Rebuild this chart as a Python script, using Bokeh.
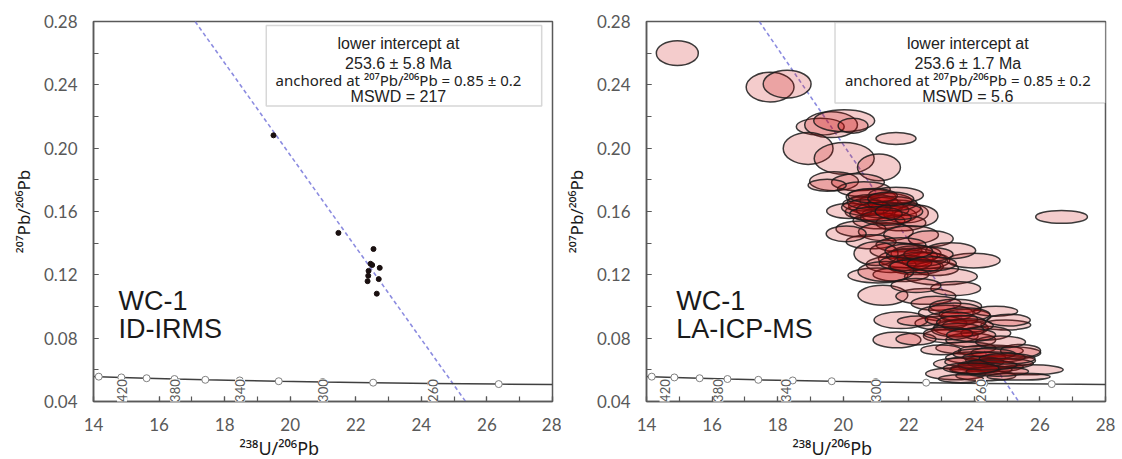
from math import pi
from bokeh.plotting import figure
from bokeh.layouts import row, Spacer
from bokeh.models import (ColumnDataSource, Label, BoxAnnotation, Title,
                          SingleIntervalTicker, NumeralTickFormatter)
from bokeh.embed import file_html
from bokeh.resources import INLINE

# ---------------- data ----------------
# Tera-Wasserburg concordia markers (Ma)
conc_age = [440, 420, 400, 380, 360, 340, 320, 300, 280, 260, 240]
conc_x = [14.16, 14.85, 15.62, 16.47, 17.41, 18.46, 19.65, 20.99, 22.53, 24.30, 26.36]
conc_y = [0.0557, 0.0552, 0.0547, 0.0542, 0.0537, 0.0533, 0.0528, 0.0523, 0.0519, 0.0514, 0.0510]
conc_line_x = [14.0, 14.16, 14.85, 15.62, 16.47, 17.41, 18.46, 19.65, 20.99, 22.53, 24.30, 26.36, 28.0]
conc_line_y = [0.0558, 0.0557, 0.0552, 0.0547, 0.0542, 0.0537, 0.0533, 0.0528, 0.0523, 0.0519, 0.0514, 0.0510, 0.0507]

age_labels = ["420", "380", "340", "300", "260"]
age_lab_x_left = [14.87, 16.49, 18.47, 21.00, 24.35]
age_lab_x_right = [14.55, 16.19, 18.26, 21.00, 24.20]

# discordia (regression) lines
disc_left_x = [17.10, 25.35]
disc_left_y = [0.28, 0.04]
disc_right_x = [17.44, 25.35]
disc_right_y = [0.28, 0.04]

# ID-IRMS analyses
idirms_x = [19.49, 21.47, 22.54, 22.45, 22.50, 22.73, 22.39, 22.38, 22.70, 22.36, 22.64]
idirms_y = [0.2081, 0.1465, 0.1363, 0.1270, 0.1262, 0.1244, 0.1225, 0.1194, 0.1173, 0.1160, 0.1081]

# LA-ICP-MS analyses (error ellipses: centre, full width, full height)
la_x = [14.94, 17.77, 18.29, 19.30, 19.63, 20.03, 20.30, 18.93, 20.03, 21.09, 21.61, 26.66,
        19.72, 20.45, 20.63, 19.51,
        20.85, 21.30, 21.00, 21.61, 20.79, 21.40, 21.91, 21.09, 21.76, 22.22, 20.18, 20.60, 21.61,
        20.54, 21.30, 22.07, 22.67, 20.85, 20.09, 21.76,
        21.61, 22.22, 21.91, 22.52, 21.46, 22.22, 22.83, 21.00, 23.98, 23.28, 21.76,
        21.06, 22.98, 21.30, 21.21, 22.52, 23.43, 22.22,
        22.83, 23.43, 23.13, 23.74, 22.98, 23.59, 23.28, 23.89, 24.65, 21.76, 22.31, 24.96, 25.05, 21.64, 22.22, 24.35,
        23.74, 24.50, 24.96, 24.04, 24.80, 23.59, 24.50, 25.72, 23.43, 24.35, 23.59, 25.35, 25.41, 22.98, 24.80, 24.04,
        20.90, 21.20, 21.50, 20.70, 21.30, 21.00, 21.70, 20.90, 21.45,
        22.10, 22.40, 21.90, 22.60, 22.20, 22.00, 22.70,
        23.40, 23.70, 23.30, 23.80, 23.50, 23.20, 23.90, 23.60,
        24.30, 24.60, 24.00, 24.80, 24.20, 24.70, 24.40, 23.90, 25.00]
la_y = [0.2600, 0.2386, 0.2405, 0.2136, 0.2148, 0.2173, 0.2142, 0.1998, 0.1935, 0.1879, 0.2061, 0.1566,
        0.1791, 0.1785, 0.1741, 0.1766,
        0.1691, 0.1666, 0.1635, 0.1622, 0.1597, 0.1578, 0.1591, 0.1541, 0.1528, 0.1572, 0.1603, 0.1647, 0.1703,
        0.1490, 0.1472, 0.1453, 0.1428, 0.1409, 0.1459, 0.1390,
        0.1353, 0.1334, 0.1302, 0.1290, 0.1265, 0.1252, 0.1240, 0.1334, 0.1290, 0.1353, 0.1202,
        0.1196, 0.1190, 0.1221, 0.1071, 0.1064, 0.1114, 0.1133,
        0.1020, 0.1002, 0.0958, 0.0939, 0.0895, 0.0864, 0.0814, 0.0789, 0.0970, 0.0914, 0.0908, 0.0883, 0.0914, 0.0789, 0.0795, 0.0832,
        0.0738, 0.0720, 0.0707, 0.0676, 0.0657, 0.0638, 0.0619, 0.0601, 0.0575, 0.0563, 0.0544, 0.0557, 0.0720, 0.0726, 0.0776, 0.0607,
        0.1660, 0.1610, 0.1650, 0.1625, 0.1560, 0.1585, 0.1600, 0.1700, 0.1680,
        0.1320, 0.1300, 0.1275, 0.1330, 0.1255, 0.1350, 0.1270,
        0.0980, 0.0950, 0.0920, 0.0880, 0.0850, 0.0830, 0.0820, 0.0900,
        0.0700, 0.0680, 0.0650, 0.0640, 0.0600, 0.0590, 0.0630, 0.0610, 0.0670]
la_w = [1.28, 1.46, 1.46, 1.46, 1.61, 1.86, 0.91, 1.52, 1.83, 1.31, 1.22, 1.58,
        1.49, 1.61, 1.61, 1.16,
        1.52, 1.58, 1.67, 1.52, 1.46, 1.67, 1.37, 1.58, 1.52, 1.34, 1.37, 1.22, 1.67,
        1.52, 1.67, 1.67, 1.37, 1.52, 1.22, 1.52,
        1.58, 1.52, 1.67, 1.46, 1.52, 1.67, 1.37, 1.34, 1.61, 1.52, 1.70,
        1.83, 2.22, 1.70, 1.52, 1.83, 1.52, 1.52,
        1.52, 1.58, 1.67, 1.52, 1.58, 1.67, 1.67, 1.52, 1.34, 1.64, 1.31, 1.52, 1.31, 1.46, 1.22, 1.52,
        1.83, 1.98, 2.13, 1.83, 2.13, 1.67, 1.98, 1.98, 1.83, 1.83, 1.37, 1.92, 1.22, 1.22, 1.52, 1.52,
        1.55, 1.60, 1.50, 1.50, 1.55, 1.60, 1.45, 1.50, 1.40,
        1.55, 1.50, 1.60, 1.50, 1.55, 1.45, 1.50,
        1.60, 1.55, 1.60, 1.55, 1.60, 1.50, 1.50, 1.50,
        1.90, 1.90, 1.80, 2.00, 1.90, 1.90, 1.80, 1.70, 1.70]
la_h = [0.0157, 0.0188, 0.0175, 0.0107, 0.0163, 0.0138, 0.0094, 0.0201, 0.0201, 0.0169, 0.0075, 0.0081,
        0.0119, 0.0107, 0.0094, 0.0075,
        0.0100, 0.0100, 0.0113, 0.0100, 0.0100, 0.0113, 0.0125, 0.0100, 0.0100, 0.0138, 0.0094, 0.0088, 0.0100,
        0.0100, 0.0113, 0.0113, 0.0100, 0.0088, 0.0100, 0.0088,
        0.0100, 0.0100, 0.0113, 0.0100, 0.0100, 0.0100, 0.0088, 0.0150, 0.0094, 0.0100, 0.0088,
        0.0094, 0.0107, 0.0125, 0.0125, 0.0100, 0.0088, 0.0088,
        0.0088, 0.0088, 0.0100, 0.0088, 0.0088, 0.0100, 0.0088, 0.0088, 0.0063, 0.0107, 0.0063, 0.0063, 0.0075, 0.0100, 0.0075, 0.0088,
        0.0075, 0.0075, 0.0081, 0.0075, 0.0075, 0.0075, 0.0063, 0.0063, 0.0075, 0.0063, 0.0050, 0.0044, 0.0081, 0.0063, 0.0075, 0.0063,
        0.0095, 0.0100, 0.0090, 0.0100, 0.0095, 0.0090, 0.0100, 0.0090, 0.0085,
        0.0095, 0.0090, 0.0095, 0.0090, 0.0085, 0.0090, 0.0090,
        0.0085, 0.0085, 0.0090, 0.0085, 0.0085, 0.0080, 0.0080, 0.0085,
        0.0070, 0.0065, 0.0070, 0.0065, 0.0060, 0.0060, 0.0060, 0.0065, 0.0065]

left_box_lines = ["lower intercept at", "253.6 \u00b1 5.8 Ma",
                  "anchored at \u00b2\u2070\u2077Pb/\u00b2\u2070\u2076Pb = 0.85 \u00b1 0.2", "MSWD = 217"]
right_box_lines = ["lower intercept at", "253.6 \u00b1 1.7 Ma",
                   "anchored at \u00b2\u2070\u2077Pb/\u00b2\u2070\u2076Pb = 0.85 \u00b1 0.2", "MSWD = 5.6"]
left_sample = ["WC-1", "ID-IRMS"]
right_sample = ["WC-1", "LA-ICP-MS"]
x_label = "\u00b2\u00b3\u2078U/\u00b2\u2070\u2076Pb"
y_label = "\u00b2\u2070\u2077Pb/\u00b2\u2070\u2076Pb"

# ---------------- styling ----------------
AX = "#595959"
TICK_FONT = "Lato"
TXT_FONT = "Liberation Sans"
SUP_FONT = "Noto Sans"   # full coverage of superscript digits
line_ys = [0.2662, 0.2537, 0.2430, 0.2324]


def base_fig(width, border_right, xlabel_offset):
    p = figure(width=width, height=459, x_range=(14, 28), y_range=(0.04, 0.28),
               output_backend="svg", toolbar_location=None,
               min_border_left=84, min_border_right=border_right,
               min_border_top=21, min_border_bottom=55)
    p.grid.visible = False
    p.outline_line_color = AX
    p.outline_line_width = 1.5
    p.xaxis.ticker = SingleIntervalTicker(interval=2, num_minor_ticks=2)
    p.yaxis.ticker = SingleIntervalTicker(interval=0.04, num_minor_ticks=2)
    p.yaxis.formatter = NumeralTickFormatter(format="0.00")
    for ax in (p.xaxis[0], p.yaxis[0]):
        ax.major_tick_in = 5
        ax.major_tick_out = 0
        ax.minor_tick_in = 5
        ax.minor_tick_out = 0
        ax.axis_line_color = AX
        ax.axis_line_width = 1.5
        ax.major_tick_line_color = AX
        ax.minor_tick_line_color = AX
        ax.major_tick_line_width = 1.2
        ax.minor_tick_line_width = 1.2
        ax.major_label_text_font = TICK_FONT
        ax.major_label_text_font_size = "17px"
        ax.major_label_text_color = AX
    p.xaxis.major_label_standoff = 16
    p.yaxis.major_label_standoff = 16
    p.yaxis.axis_label = y_label
    p.yaxis.axis_label_text_font = SUP_FONT
    p.yaxis.axis_label_text_font_size = "17px"
    p.yaxis.axis_label_text_font_style = "normal"
    p.yaxis.axis_label_text_color = "#1a1a1a"
    p.yaxis.axis_label_standoff = 6
    p.add_layout(Title(text=x_label, align="left", offset=xlabel_offset, standoff=0,
                       text_font=SUP_FONT, text_font_size="18px", text_font_style="normal",
                       text_color="#1a1a1a"), "below")
    return p


def decorate(p, lab_x, box, box_lines, text_cx, sample, sample_x):
    p.line(conc_line_x, conc_line_y, line_color="#404040", line_width=1.5)
    p.scatter(conc_x, conc_y, marker="circle", size=7, fill_color="white",
              line_color="#808080", line_width=1)
    for t, lx in zip(age_labels, lab_x):
        p.add_layout(Label(x=lx, y=0.0469, text=t, angle=pi / 2, text_align="center",
                           text_baseline="middle", text_font=TICK_FONT, text_font_size="13px",
                           text_color=AX, background_fill_color="white",
                           background_fill_alpha=1.0))
    left, right, bottom, top = box
    p.add_layout(BoxAnnotation(left=left, right=right, bottom=bottom, top=top,
                               fill_color="white", fill_alpha=1.0,
                               line_color="#7a7a7a", line_width=1.5))
    for i, (t, ly) in enumerate(zip(box_lines, line_ys)):
        sup = i == 2
        p.add_layout(Label(x=text_cx, y=ly, text=t, text_align="center",
                           text_baseline="alphabetic",
                           text_font=SUP_FONT if sup else TXT_FONT,
                           text_font_size="15px" if sup else "16px", text_color="#222222"))
    for t, sy in zip(sample, [0.1033, 0.0857]):
        p.add_layout(Label(x=sample_x, y=sy, text=t, text_align="left",
                           text_baseline="alphabetic", text_font=TXT_FONT,
                           text_font_size="27px", text_color="#1a1a1a"))


# left panel: ID-IRMS
p1 = base_fig(553, 9, 146)
p1.line(disc_left_x, disc_left_y, line_color="#8c8ce0", line_width=1.6, line_dash="4 3")
decorate(p1, age_lab_x_left, (19.27, 27.67, 0.2267, 0.2775), left_box_lines, 23.30,
         left_sample, 14.76)
p1.scatter(idirms_x, idirms_y, marker="circle", size=5, fill_color="#1a1010",
           line_color="#1a1010")

# right panel: LA-ICP-MS
p2 = base_fig(561, 17, 146)
src = ColumnDataSource(dict(x=la_x, y=la_y, w=la_w, h=la_h))
p2.line(disc_right_x, disc_right_y, line_color="#8c8ce0", line_width=1.6, line_dash="4 3")
decorate(p2, age_lab_x_right, (19.75, 28.0, 0.2286, 0.2794), right_box_lines, 23.80,
         right_sample, 14.91)
p2.ellipse(x="x", y="y", width="w", height="h", source=src,
           fill_color="#c80000", fill_alpha=0.2, line_color="#1a1a1a",
           line_width=1.5, line_alpha=0.85)

layout = row(Spacer(width=8, height=459), p1, p2)
open("out.html", "w").write(file_html(layout, INLINE))
